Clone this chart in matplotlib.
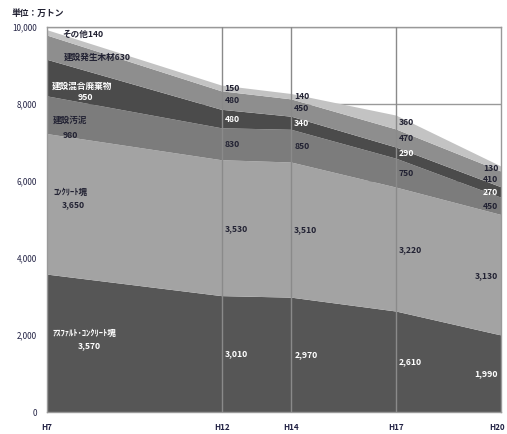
import matplotlib
matplotlib.use("Agg")
import matplotlib.pyplot as plt
import matplotlib.transforms as mtransforms
import numpy as np

plt.rcParams['font.family'] = ['Noto Sans CJK JP', 'DejaVu Sans']

years = [7, 12, 14, 17, 20]
year_labels = ["H7", "H12", "H14", "H17", "H20"]
series_names = ["ｱｽﾌｧﾙﾄ･ｺﾝｸﾘｰﾄ塊", "ｺﾝｸﾘｰﾄ塊", "建設汚泥",
                "建設混合廃棄物", "建設発生木材", "その他"]
asphalt = [3570, 3010, 2970, 2610, 1990]
concrete = [3650, 3530, 3510, 3220, 3130]
sludge = [980, 830, 850, 750, 450]
mixed = [950, 480, 340, 290, 270]
wood = [630, 480, 450, 470, 410]
other = [140, 150, 140, 360, 130]
yticks = [0, 2000, 4000, 6000, 8000, 10000]

data = [asphalt, concrete, sludge, mixed, wood, other]
colors = ["#565656", "#a3a3a3", "#7c7c7c", "#4b4b4b", "#8e8e8e", "#c3c3c3"]
text_colors = ["white", "#222233", "#222233", "white", "#222233", "#222233"]

fig = plt.figure(figsize=(5.07, 4.34), dpi=100)
ax = fig.add_axes([47/507, 22/434, 454/507, 385/434])

ax.set_axisbelow(True)
ax.yaxis.grid(True, color="#999999", linewidth=1)
ax.stackplot(years, data, colors=colors, linewidth=0)
for x in years[1:-1]:
    ax.axvline(x, color="#8a8a8a", linewidth=1, zorder=3)

ax.set_xlim(7, 20)
ax.set_ylim(0, 10000)
ax.set_yticks(yticks)
ax.set_yticklabels([f"{v:,}" for v in yticks], fontsize=5.8, color="#222244")
ax.set_xticks(years)
ax.set_xticklabels(year_labels, fontsize=5.8, fontweight="bold", color="#222244")
ax.tick_params(length=0, pad=7)
ax.tick_params(axis="x", pad=8)
last = ax.get_xticklabels()[-1]
last.set_transform(last.get_transform() +
                   mtransforms.ScaledTranslation(-2.5/72, 0, fig.dpi_scale_trans))
for s in ax.spines.values():
    s.set_color("#999999")
    s.set_linewidth(1)

cum = np.cumsum(np.array(data), axis=0)
fs = 6.2
# value labels at H12, H14, H17, H20
for i in range(len(data)):
    for j in range(1, len(years)):
        yc = cum[i][j] - data[i][j] / 2
        if j == len(years) - 1:
            ax.annotate(f"{data[i][j]:,}", (years[j], yc), xytext=(-2, 0),
                        textcoords="offset points", ha="right", va="center",
                        fontsize=fs, color=text_colors[i], fontweight="bold")
        else:
            ax.annotate(f"{data[i][j]:,}", (years[j], yc), xytext=(2, 0),
                        textcoords="offset points", ha="left", va="center",
                        fontsize=fs, color=text_colors[i], fontweight="bold")

# name labels near H7
def px(xp, yp):
    return 7 + (xp - 47) / 34.92, (412 - yp) / 0.0385

name_pos = [
    ((52, 333), (78, 346)),
    ((53, 192), (62, 205)),
    ((53, 120), (63, 135)),
    ((52, 86), (78, 98)),
]
for i, ((n1, n2), (v1, v2)) in enumerate(name_pos):
    ax.text(*px(n1, n2), series_names[i], fontsize=fs, color=text_colors[i],
            fontweight="bold", ha="left", va="center")
    ax.text(*px(v1, v2), f"{data[i][0]:,}", fontsize=fs, color=text_colors[i],
            fontweight="bold", ha="left", va="center")
ax.text(*px(64, 57), f"{series_names[4]}{data[4][0]:,}", fontsize=fs,
        color=text_colors[4], fontweight="bold", ha="left", va="center")
ax.text(*px(62, 34), f"{series_names[5]}{data[5][0]:,}", fontsize=fs,
        color=text_colors[5], fontweight="bold", ha="left", va="center")

fig.text(12/507, 1 - 13/434, "単位：万トン", fontsize=6.3, fontweight="bold",
         color="#222233", ha="left", va="center")

fig.savefig("out.png", dpi=100)
